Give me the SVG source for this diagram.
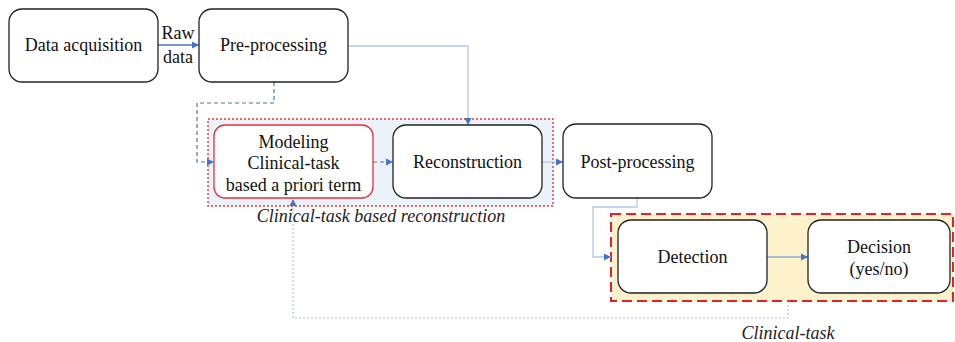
<svg xmlns="http://www.w3.org/2000/svg" width="955" height="342" viewBox="0 0 955 342">
<style>
.box{fill:#fff;stroke:#222;stroke-width:1.3}
.t{font-family:"Liberation Serif",serif;font-size:18px;fill:#111;text-anchor:middle}
.it{font-family:"Liberation Serif",serif;font-size:18px;font-style:italic;fill:#222;text-anchor:middle}
.c{fill:none;stroke:#b4c7e7;stroke-width:1.3}
.cd{fill:none;stroke:#4a72c0;stroke-width:1.2;stroke-dasharray:4,3}
.cdot{fill:none;stroke:#a8bde3;stroke-width:1.1;stroke-dasharray:2,2}
</style>
<defs>
<marker id="ah" markerWidth="8" markerHeight="8" refX="7" refY="4" orient="auto" markerUnits="userSpaceOnUse"><path d="M0,0.5 L7,4 L0,7.5 Z" fill="#4472c4"/></marker>
</defs>
<g id="group-recon">
<rect x="208" y="119" width="345" height="87" fill="#eaf2fa" stroke="#e8383a" stroke-width="1.4" stroke-dasharray="2,2"/>
<text class="it" style="font-family:'Liberation Serif',serif !important" x="381" y="222">Clinical-task based reconstruction</text>
</g>
<g id="group-clinical">
<rect x="611" y="214" width="342" height="87" fill="#fdf2cc" stroke="#e8202a" stroke-width="2" stroke-dasharray="10,5"/>
<text class="it" style="font-family:'Liberation Serif',serif !important" x="788" y="339">Clinical-task</text>
</g>
<g id="connectors">
<path d="M158,45 H199" fill="none" stroke="#4a72c0" stroke-width="1.3" marker-end="url(#ah)"/>
<text class="t" x="178" y="39">Raw</text>
<text class="t" x="178" y="63">data</text>
<path class="c" d="M348,46 H468 V125" marker-end="url(#ah)"/>
<path class="cd" d="M274,82 V103 H197 V162 H214" marker-end="url(#ah)"/>
<path class="cd" d="M373,162 H393" marker-end="url(#ah)"/>
<path class="c" d="M542,162 H563" marker-end="url(#ah)"/>
<path class="c" d="M637,198 V207 H593 V257 H611" marker-end="url(#ah)"/>
<path class="c" d="M767,257 H808" style="stroke:#8fa9d6" marker-end="url(#ah)"/>
<path class="cdot" d="M788,301 V318 H293 V199" marker-end="url(#ah)"/>
</g>
<g id="data-acquisition">
<rect class="box" x="9" y="9" width="149" height="73" rx="13"/>
<text class="t" style="font-family:'Liberation Serif',serif !important" x="83.5" y="51">Data acquisition</text>
</g>
<g id="pre-processing">
<rect class="box" x="199" y="9" width="149" height="73" rx="13"/>
<text class="t" style="font-family:'Liberation Serif',serif !important" x="273.5" y="51">Pre-processing</text>
</g>
<g id="modeling">
<rect class="box" x="214" y="125" width="159" height="73" rx="11" style="stroke:#e8303a"/>
<text class="t" style="font-family:'Liberation Serif',serif !important" x="293.5" y="148">Modeling</text>
<text class="t" style="font-family:'Liberation Serif',serif !important" x="293.5" y="169">Clinical-task</text>
<text class="t" style="font-family:'Liberation Serif',serif !important" x="293.5" y="191">based a priori term</text>
</g>
<g id="reconstruction">
<rect class="box" x="393" y="125" width="149" height="73" rx="13"/>
<text class="t" style="font-family:'Liberation Serif',serif !important" x="467.5" y="168">Reconstruction</text>
</g>
<g id="post-processing">
<rect class="box" x="563" y="124" width="149" height="74" rx="13"/>
<text class="t" style="font-family:'Liberation Serif',serif !important" x="637.5" y="168">Post-processing</text>
</g>
<g id="detection">
<rect class="box" x="618" y="220" width="149" height="73" rx="13"/>
<text class="t" style="font-family:'Liberation Serif',serif !important" x="692.5" y="263">Detection</text>
</g>
<g id="decision">
<rect class="box" x="808" y="220" width="142" height="73" rx="13"/>
<text class="t" style="font-family:'Liberation Serif',serif !important" x="879" y="253">Decision</text>
<text class="t" style="font-family:'Liberation Serif',serif !important" x="879" y="275">(yes/no)</text>
</g>
</svg>
